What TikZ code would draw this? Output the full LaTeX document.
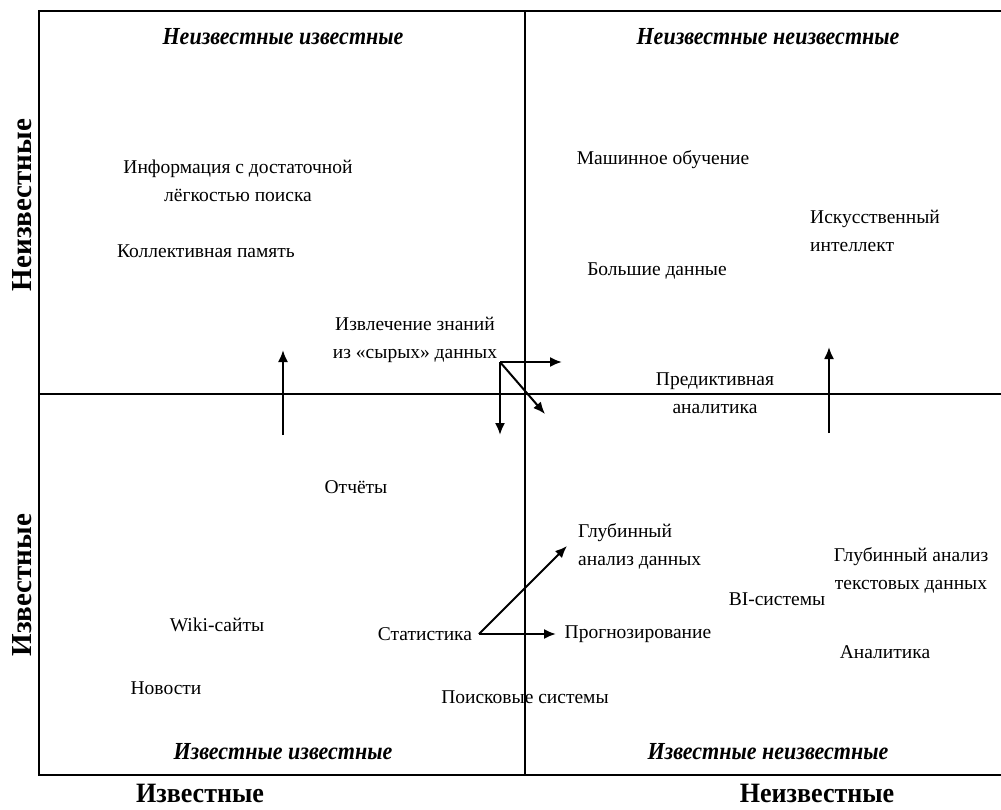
\documentclass[tikz,border=0pt]{standalone}
\usepackage{fontspec}
\setmainfont{Liberation Serif}
\usetikzlibrary{arrows.meta}
\tikzset{
  frame/.style={line width=2pt},
  axisline/.style={line width=1.6pt},
  arr/.style={line width=2pt,-{Latex[length=12pt,width=10pt]}},
  lbl/.style={font=\fontsize{19.5}{28}\selectfont,inner sep=0pt,align=center},
  lbll/.style={lbl,align=left},
  ttl/.style={inner sep=0pt},
  ax/.style={inner sep=0pt}
}
\newcommand{\ttltext}[1]{\scalebox{0.9}[1]{\fontsize{24.5}{28}\selectfont\bfseries\itshape #1}}
\newcommand{\axtext}[1]{\scalebox{0.93}[1]{\fontsize{28}{32}\selectfont\bfseries #1}}
\newcommand{\axvtext}[1]{\fontsize{29}{34}\selectfont\bfseries #1}
\begin{document}
\begin{tikzpicture}[x=1pt,y=-1pt]
\useasboundingbox (0,0) rectangle (1001,809);
% frame
\draw[frame] (1010,11) -- (39,11) -- (39,775) -- (1010,775);
\draw[axisline] (525,11) -- (525,775);
\draw[axisline] (39,394) -- (1010,394);
% quadrant titles
\node[ttl] (t1) at (283,37) {\ttltext{Неизвестные известные}};
\node[ttl] (t2) at (768,37) {\ttltext{Неизвестные неизвестные}};
\node[ttl] (t3) at (283,752) {\ttltext{Известные известные}};
\node[ttl] (t4) at (768,752) {\ttltext{Известные неизвестные}};
% axis labels
\node[ax,anchor=base] (a1) at (200,802) {\axtext{Известные}};
\node[ax,anchor=base] (a2) at (817,802) {\axtext{Неизвестные}};
\node[ax,rotate=90] (a3) at (22,205) {\axvtext{Неизвестные}};
\node[ax,rotate=90] (a4) at (22,585) {\axvtext{Известные}};
% labels
\node[lbl] (info) at (238,181) {Информация с достаточной\\лёгкостью поиска};
\node[lbl] (koll) at (206,251) {Коллективная память};
\node[lbl] (izvl) at (415,340) {Извлечение знаний\\из «сырых» данных};
\node[lbl] (mash) at (663,160) {Машинное обучение};
\node[lbll,anchor=west] (iskus) at (810,231) {Искусственный\\интеллект};
\node[lbl] (bolsh) at (657,271) {Большие данные};
\node[lbl] (pred) at (715,393) {Предиктивная\\аналитика};
\node[lbl] (otch) at (356,487) {Отчёты};
\node[lbll,anchor=west] (glub) at (578,546) {Глубинный\\анализ данных};
\node[lbl] (glubt) at (911,570) {Глубинный анализ\\текстовых данных};
\node[lbl] (bi) at (777,599) {BI-системы};
\node[lbl] (wiki) at (217,625) {Wiki-сайты};
\node[lbl] (stat) at (425,634) {Статистика};
\node[lbl] (prog) at (638,634) {Прогнозирование};
\node[lbl] (anal) at (885,652) {Аналитика};
\node[lbl] (nov) at (166,688) {Новости};
\node[lbl] (poisk) at (525,697) {Поисковые системы};
% connector points
\coordinate (u1s) at (283,435);
\coordinate (u1e) at (283,350);
\coordinate (u2s) at (829,433);
\coordinate (u2e) at (829,347);
\coordinate (o) at (500,362);
\coordinate (oR) at (562,362);
\coordinate (oD) at (500,435);
\coordinate (oDR) at (545,414);
\coordinate (s) at (479,634);
\coordinate (sR) at (556,634);
\coordinate (sUR) at (567,546);
% arrows
\draw[arr] (u1s) -- (u1e);
\draw[arr] (u2s) -- (u2e);
\draw[arr] (o) -- (oR);
\draw[arr] (o) -- (oD);
\draw[arr] (o) -- (oDR);
\draw[arr] (s) -- (sR);
\draw[arr] (s) -- (sUR);
\end{tikzpicture}
\end{document}
